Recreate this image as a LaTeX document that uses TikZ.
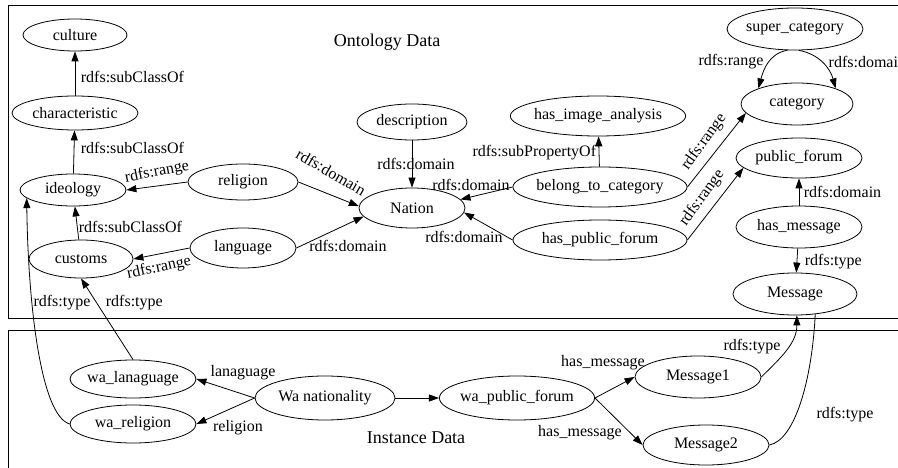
\documentclass[tikz,border=0pt]{standalone}
\usepackage{fontspec}
\setmainfont{Liberation Serif}
\usetikzlibrary{shapes.geometric,arrows.meta}
\newcommand{\PicW}{898}
\newcommand{\PicH}{468}
\newcommand{\EdgeWidth}{0.8pt}
\tikzset{
  cls/.style={
    ellipse,draw,line width=\EdgeWidth,
    inner xsep=-2pt,inner ysep=0pt,
    font=\fontsize{16}{18}\selectfont
  },
  lab/.style={inner sep=0.5pt,font=\fontsize{16}{18}\selectfont},
  rdfarrow/.style={line width=\EdgeWidth,-{Triangle[length=10pt,width=7pt]}},
  rdfline/.style={line width=\EdgeWidth},
  databox/.style={line width=\EdgeWidth},
  boxtitle/.style={font=\fontsize{18}{20}\selectfont}
}

\begin{document}
\begin{tikzpicture}[x=1pt,y=-1pt]
  \useasboundingbox (0,0) rectangle (\PicW,\PicH);
  \clip (0,0) rectangle (\PicW,\PicH);

  \draw[databox] (8,5) rectangle (920,318);
  \draw[databox] (8,330) rectangle (920,490);
  \node[boxtitle] (ontoTitle) at (387,42) {Ontology Data};
  \node[boxtitle] (instTitle) at (416,438) {Instance Data};

  \foreach \nm/\px/\py/\w/\h/\txt in {
      culture/75/35/104/32/culture,
      characteristic/75/113/126/34/characteristic,
      ideology/73/190/106/32/ideology,
      religion/243/182/110/36/religion,
      customs/81/259/104/38/customs,
      language/243/248/106/40/language,
      description/412/122/110/36/description,
      nation/412/208/106/40/Nation,
      hasImage/598/116/174/40/has\_image\_analysis,
      belongCat/600/187/174/40/belong\_to\_category,
      hasForum/600/240/174/40/has\_public\_forum,
      superCat/795/29/136/42/super\_category,
      category/797/104/112/42/category,
      publicForum/799/158/126/40/public\_forum,
      hasMessage/799/227/126/42/has\_message,
      message/795/294/124/42/Message,
      waLang/133/379/126/38/wa\_lanaguage,
      waReligion/133/424/126/38/wa\_religion,
      waNation/325/398/140/44/Wa nationality,
      waForum/517/398/150/44/wa\_public\_forum,
      messageOne/698/377/126/42/Message1,
      messageTwo/706/445/126/40/Message2}
    \node[cls,minimum width=\w pt,minimum height=\h pt] (\nm) at (\px,\py) {\txt};

  \draw[rdfarrow] (characteristic) -- (culture)
    node[lab,anchor=west] (labA) at (80,77) {rdfs:subClassOf};
  \draw[rdfarrow] (ideology) -- (characteristic)
    node[lab,anchor=west] (labB) at (80,148) {rdfs:subClassOf};
  \draw[rdfarrow] (customs) -- (ideology)
    node[lab,anchor=west] (labC) at (78,227) {rdfs:subClassOf};
  \draw[rdfarrow] (religion.west) -- (ideology.east)
    node[lab,rotate=11] (labD) at (157,172) {rdfs:range};
  \draw[rdfarrow] (language.west) -- (customs.east)
    node[lab,rotate=12] (labE) at (159,268) {rdfs:range};
  \draw[rdfarrow] (religion.east) -- (nation.178)
    node[lab,rotate=-30] (labF) at (331,172) {rdfs:domain};
  \draw[rdfarrow] (language.east) -- (nation.190)
    node[lab] (labG) at (348,246) {rdfs:domain};
  \draw[rdfarrow] (description) -- (nation)
    node[lab] (labH) at (416,164) {rdfs:domain};
  \draw[rdfarrow] (belongCat.west) -- (nation.10)
    node[lab] (labI) at (471,185) {rdfs:domain};
  \draw[rdfarrow] (hasForum.west) -- (nation.-5)
    node[lab] (labJ) at (464,237) {rdfs:domain};
  \draw[rdfarrow] (belongCat) -- (hasImage)
    node[lab,anchor=east] (labK) at (597,153) {rdfs:subPropertyOf};
  \draw[rdfarrow] (belongCat.east) -- (category.190)
    node[lab,rotate=54] (labL) at (704,142) {rdfs:range};
  \draw[rdfarrow] (hasForum.east) -- (publicForum.190)
    node[lab,rotate=54] (labM) at (702,198) {rdfs:range};
  \draw[rdfarrow] (superCat.-110) to[out=190,in=75] (category.158);
  \draw[rdfarrow] (superCat.-80) to[out=-10,in=105] (category.22);
  \node[lab] (labN) at (731,62) {rdfs:range};
  \node[lab,anchor=west] (labO) at (828,62) {rdfs:domain};
  \draw[rdfarrow] (hasMessage) -- (publicForum)
    node[lab,anchor=west] (labP) at (803,192) {rdfs:domain};
  \draw[rdfarrow] (hasMessage) -- (message)
    node[lab,anchor=west] (labQ) at (804,262) {rdfs:type};

  \draw[rdfarrow] (waReligion.west) .. controls (40,415) and (28,300) .. (ideology.190)
    node[lab] (labR) at (62,303) {rdfs:type};
  \draw[rdfarrow] (waLang.north) -- (customs.south)
    node[lab,anchor=west] (labS) at (105,303) {rdfs:type};
  \draw[rdfarrow] (waNation.west) -- (waLang.east)
    node[lab] (labT) at (243,373) {lanaguage};
  \draw[rdfarrow] (waNation.west) -- (waReligion.east)
    node[lab] (labU) at (238,428) {religion};
  \draw[rdfarrow] (waNation) -- (waForum);
  \draw[rdfarrow] (waForum.east) -- (messageOne.west)
    node[lab] (labV) at (603,363) {has\_message};
  \draw[rdfarrow] (waForum.east) -- (messageTwo.west)
    node[lab] (labW) at (580,433) {has\_message};
  \draw[rdfarrow] (messageOne.east) to[out=45,in=-90] (message.-85)
    node[lab] (labX) at (752,347) {rdfs:type};
  \draw[rdfline] (messageTwo.east) .. controls (795,440) and (812,380) .. (message.-45)
    node[lab] (labY) at (845,415) {rdfs:type};
\end{tikzpicture}
\end{document}
